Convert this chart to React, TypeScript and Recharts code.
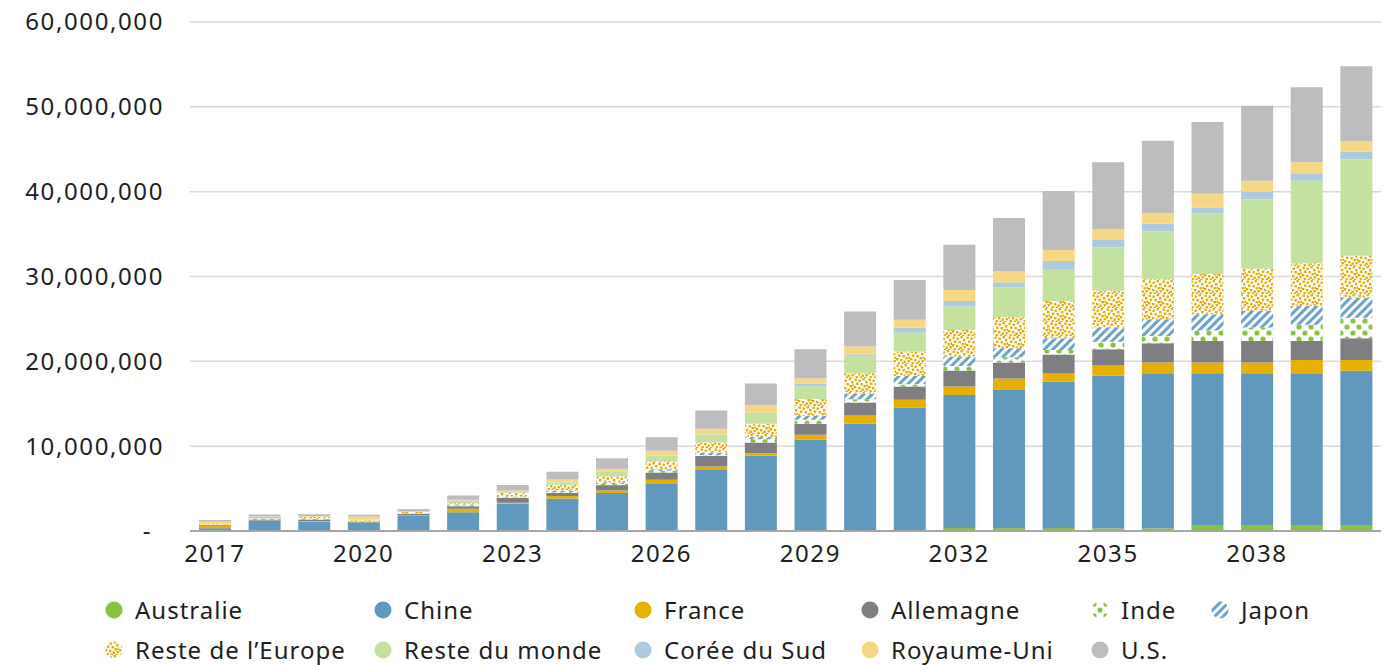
import { BarChart, Bar, XAxis, YAxis, CartesianGrid, Legend } from "recharts";

const years = [
  "2017", "2018", "2019", "2020", "2021", "2022", "2023", "2024", "2025", "2026", "2027", "2028",
  "2029", "2030", "2031", "2032", "2033", "2034", "2035", "2036", "2037", "2038", "2039", "2040",
];

// values in millions
const australie = [0.03, 0.02, 0.02, 0.02, 0.02, 0.02, 0.02, 0.02, 0.02, 0.02, 0.02, 0.02, 0.02, 0.02, 0.02, 0.35, 0.35, 0.35, 0.31, 0.31, 0.71, 0.71, 0.71, 0.71];
const chine = [0.3, 1.2, 1.1, 1.0, 1.8, 2.2, 3.2, 3.8, 4.45, 5.62, 7.27, 8.84, 10.73, 12.62, 14.54, 15.69, 16.28, 17.25, 18.0, 18.29, 17.89, 17.89, 17.89, 18.19];
const france = [0.3, 0.03, 0.05, 0.05, 0.03, 0.4, 0.1, 0.3, 0.31, 0.39, 0.31, 0.31, 0.59, 0.98, 0.9, 0.98, 1.34, 0.98, 1.26, 1.26, 1.26, 1.26, 1.57, 1.26];
const allemagne = [0.1, 0.1, 0.2, 0.05, 0.15, 0.3, 0.6, 0.35, 0.63, 0.86, 1.26, 1.26, 1.3, 1.53, 1.57, 1.89, 1.89, 2.24, 1.85, 2.28, 2.55, 2.55, 2.24, 2.55];
const inde = [0.02, 0.02, 0.05, 0.02, 0.05, 0.1, 0.05, 0.08, 0.15, 0.2, 0.1, 0.4, 0.47, 0.39, 0.28, 0.55, 0.63, 0.51, 0.9, 0.86, 1.22, 1.57, 1.89, 2.44];
const japon = [0.02, 0.08, 0.03, 0.02, 0.05, 0.1, 0.1, 0.2, 0.16, 0.2, 0.3, 0.24, 0.47, 0.63, 0.98, 1.1, 1.06, 1.38, 1.69, 1.97, 1.93, 1.97, 2.24, 2.36];
const resteEurope = [0.05, 0.03, 0.2, 0.12, 0.15, 0.15, 0.45, 0.7, 0.71, 0.94, 1.18, 1.57, 1.97, 2.44, 2.87, 3.14, 3.66, 4.4, 4.32, 4.72, 4.72, 4.95, 5.03, 4.95];
const resteMonde = [0.05, 0.03, 0.05, 0.05, 0.05, 0.3, 0.15, 0.28, 0.59, 0.63, 0.94, 1.26, 1.49, 1.97, 2.2, 2.75, 3.54, 3.77, 5.11, 5.62, 7.19, 8.22, 9.71, 11.36];
const coree = [0.03, 0.2, 0.02, 0.03, 0.02, 0.05, 0.05, 0.03, 0.03, 0.03, 0.03, 0.03, 0.31, 0.24, 0.59, 0.67, 0.55, 0.94, 0.86, 0.9, 0.67, 0.9, 0.9, 0.9];
const royaumeUni = [0.2, 0.03, 0.05, 0.35, 0.02, 0.05, 0.05, 0.31, 0.28, 0.57, 0.65, 0.92, 0.67, 0.94, 0.94, 1.3, 1.3, 1.3, 1.3, 1.26, 1.61, 1.26, 1.3, 1.26];
const us = [0.2, 0.2, 0.2, 0.2, 0.25, 0.5, 0.65, 0.92, 1.24, 1.6, 2.15, 2.53, 3.4, 4.1, 4.7, 5.31, 6.3, 6.96, 7.86, 8.53, 8.45, 8.84, 8.84, 8.81];

const yTicks = [0, 10000000, 20000000, 30000000, 40000000, 50000000, 60000000];

const series = [
  { key: "Australie", values: australie, fill: "#86c440" },
  { key: "Chine", values: chine, fill: "#6199be" },
  { key: "France", values: france, fill: "#e6b000" },
  { key: "Allemagne", values: allemagne, fill: "#7f7f83" },
  { key: "Inde", values: inde, fill: "url(#pat-inde)" },
  { key: "Japon", values: japon, fill: "url(#pat-japon)" },
  { key: "Reste de l\u2019Europe", values: resteEurope, fill: "url(#pat-europe)" },
  { key: "Reste du monde", values: resteMonde, fill: "#c5e19f" },
  { key: "Corée du Sud", values: coree, fill: "#aecbdd" },
  { key: "Royaume-Uni", values: royaumeUni, fill: "#f5d884" },
  { key: "U.S.", values: us, fill: "#bdbdbf" },
];

const data = years.map((year, i) => {
  const row: Record<string, string | number> = { year };
  series.forEach((s) => {
    row[s.key] = Math.round(s.values[i] * 1000000);
  });
  return row;
});

const FONT = "'Noto Sans', sans-serif";
const legendCols = [114, 383, 643, 870, 1100, 1220];

// speckle positions for the "Reste de l'Europe" texture
const speckles = [
  [0.5, 0.5], [4.5, 1.5], [8.5, 0], [11, 3], [2, 4.5], [6.5, 5], [9.5, 7], [0, 8],
  [4, 9], [7.5, 10.5], [11.5, 10], [1.5, 12], [5.5, 12.5], [10, 13], [12.5, 6.5],
];

function Patterns() {
  return (
    <svg width={0} height={0} style={{ position: "absolute" }}>
      <defs>
        <pattern id="pat-inde" width={12} height={12} patternUnits="userSpaceOnUse">
          <rect width={12} height={12} fill="#ffffff" />
          <circle cx={3} cy={3} r={2.6} fill="#86c440" />
          <circle cx={9} cy={9} r={2.6} fill="#86c440" />
        </pattern>
        <pattern id="pat-japon" width={6} height={6} patternUnits="userSpaceOnUse" patternTransform="rotate(45)">
          <rect width={6} height={6} fill="#ffffff" />
          <rect width={3} height={6} fill="#6aa3cc" />
        </pattern>
        <pattern id="pat-europe" width={14} height={14} patternUnits="userSpaceOnUse">
          <rect width={14} height={14} fill="#ffffff" />
          {speckles.map(([x, y], i) => (
            <rect key={i} x={x} y={y} width={2.4} height={2.4} fill="#e8a900" />
          ))}
        </pattern>
      </defs>
    </svg>
  );
}

function YTick(props: any) {
  const { x, y, payload } = props;
  const v = payload.value as number;
  return (
    <text
      x={v === 0 ? x - 10 : x + 2}
      y={y}
      dy="0.35em"
      textAnchor="end"
      fill="#1e1e1e"
      fontSize={24}
      fontFamily={FONT}
      letterSpacing={1.6}
    >
      {v === 0 ? "-" : v.toLocaleString("en-US")}
    </text>
  );
}

function LegendGrid() {
  return (
    <div style={{ position: "relative", width: 1390, height: 90, fontFamily: FONT }}>
      {series.map((s, i) => {
        const row = i < 6 ? 0 : 1;
        const col = i < 6 ? i : i - 6;
        return (
          <div
            key={s.key}
            style={{
              position: "absolute",
              left: legendCols[col] - 9,
              top: row === 0 ? 20 : 60,
              display: "flex",
              alignItems: "center",
              whiteSpace: "nowrap",
              fontSize: 24,
              letterSpacing: 1.0,
              color: "#1e1e1e",
              lineHeight: "30px",
            }}
          >
            <svg width={18} height={18} style={{ marginRight: 12 }}>
              <circle cx={9} cy={9} r={8.5} fill={s.fill} />
            </svg>
            {s.key}
          </div>
        );
      })}
    </div>
  );
}

export default function App() {
  return (
    <div style={{ position: "absolute", left: 0, top: 0, background: "#ffffff" }}>
      <Patterns />
      <BarChart
        width={1390}
        height={665}
        data={data}
        margin={{ top: 22, right: 9, bottom: 0, left: 0 }}
        barSize={32}
      >
        <CartesianGrid vertical={false} stroke="#d9d9d9" strokeWidth={1.5} />
        <XAxis
          dataKey="year"
          interval={2}
          tickLine={false}
          axisLine={{ stroke: "#a6a6a6", strokeWidth: 2 }}
          tick={{ fill: "#1e1e1e", fontSize: 24, fontFamily: FONT, letterSpacing: 1.6 }}
          tickMargin={8}
          height={44}
        />
        <YAxis
          width={190}
          domain={[0, 60000000]}
          ticks={yTicks}
          tickLine={false}
          axisLine={false}
          tickMargin={22}
          tick={<YTick />}
        />
        <Legend verticalAlign="bottom" content={() => <LegendGrid />} />
        {series.map((s) => (
          <Bar key={s.key} dataKey={s.key} stackId="a" fill={s.fill} isAnimationActive={false} />
        ))}
      </BarChart>
    </div>
  );
}
